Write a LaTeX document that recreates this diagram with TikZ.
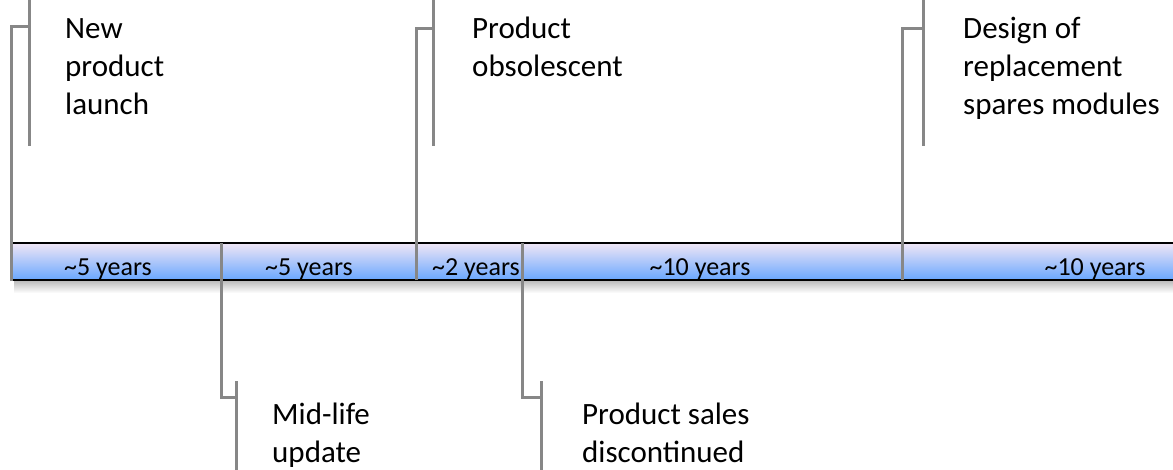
\documentclass[tikz,border=0pt]{standalone}
\usepackage{fontspec}
\setmainfont{Carlito}
\begin{document}
\begin{tikzpicture}[x=1pt,y=-1pt,
  callout/.style={draw=calloutGrey,line width=3pt},
  eventtext/.style={anchor=north west,inner sep=0pt,align=left,
    font=\fontsize{31}{38}\selectfont},
  spanlabel/.style={anchor=base,inner sep=0pt,font=\fontsize{26}{31}\selectfont}]
\definecolor{calloutGrey}{HTML}{878787}
\definecolor{barTop}{HTML}{F0E6F5}
\definecolor{barMid}{HTML}{C0D6F5}
\definecolor{barBot}{HTML}{69A7FF}
\useasboundingbox (0,0) rectangle (1173,469);

% timeline bar with soft shadow underneath
\shade[top color=black!28,bottom color=white] (14,280) rectangle (1173,293);
\shade[top color=barTop,middle color=barMid,bottom color=barBot] (12,243) rectangle (1173,280);
\draw[black,line width=1.6pt] (12,243) -- (1173,243);
\draw[black,line width=1.6pt] (12,280) -- (1173,280);

% duration labels inside the bar
\node[spanlabel] (span1) at (108,275) {\textasciitilde5 years};
\node[spanlabel] (span2) at (309,275) {\textasciitilde5 years};
\node[spanlabel] (span3) at (476,275) {\textasciitilde2 years};
\node[spanlabel] (span4) at (700,275) {\textasciitilde10 years};
\node[spanlabel] (span5) at (1095,275) {\textasciitilde10 years};

% anchor points on the bar and along the callout accent lines
\coordinate (launchBar) at (11,281);
\coordinate (launchJoin) at (29,26);
\coordinate (launchTop) at (29,-2);
\coordinate (launchEnd) at (29,146);

\coordinate (obsBar) at (416,280);
\coordinate (obsJoin) at (433,28);
\coordinate (obsTop) at (433,-2);
\coordinate (obsEnd) at (433,146);

\coordinate (designBar) at (902,280);
\coordinate (designJoin) at (923,28);
\coordinate (designTop) at (923,-2);
\coordinate (designEnd) at (923,146);

\coordinate (midBar) at (221,243);
\coordinate (midJoin) at (236,397);
\coordinate (midTop) at (236,381);
\coordinate (midEnd) at (236,471);

\coordinate (salesBar) at (522,243);
\coordinate (salesJoin) at (541,397);
\coordinate (salesTop) at (541,381);
\coordinate (salesEnd) at (541,471);

% callout connectors
\draw[callout] (launchBar) |- (launchJoin);
\draw[callout] (launchTop) -- (launchEnd);
\draw[callout] (obsBar) |- (obsJoin);
\draw[callout] (obsTop) -- (obsEnd);
\draw[callout] (designBar) |- (designJoin);
\draw[callout] (designTop) -- (designEnd);
\draw[callout] (midBar) |- (midJoin);
\draw[callout] (midTop) -- (midEnd);
\draw[callout] (salesBar) |- (salesJoin);
\draw[callout] (salesTop) -- (salesEnd);

% event descriptions
\node[eventtext] (launch) at (65,18) {New\\product\\launch};
\node[eventtext] (obsolete) at (472,17) {Product\\obsolescent};
\node[eventtext] (design) at (963,17) {Design of\\replacement\\spares modules};
\node[eventtext] (midlife) at (272,403) {Mid-life\\update};
\node[eventtext] (sales) at (582,403) {Product sales\\discontinued};
\end{tikzpicture}
\end{document}
